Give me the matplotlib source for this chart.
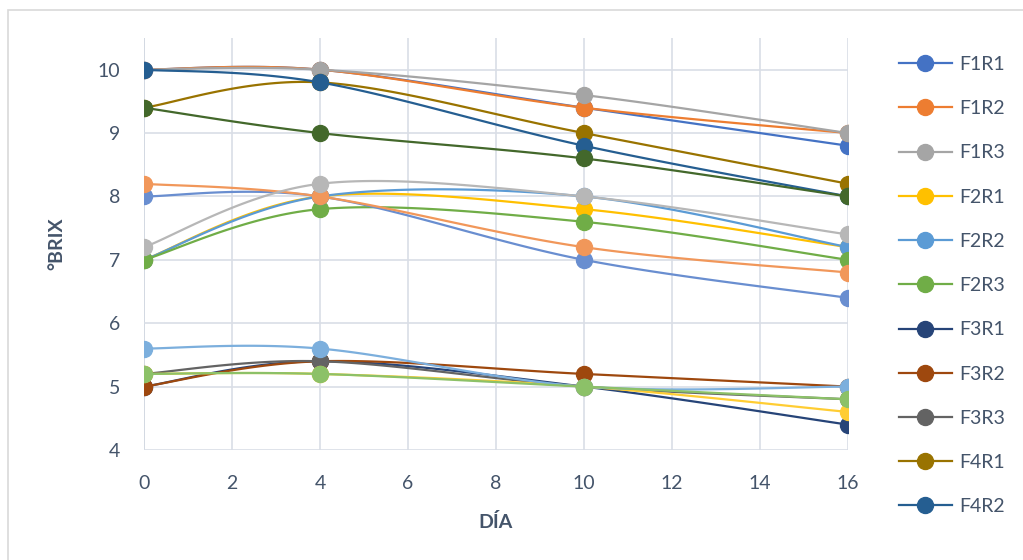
import matplotlib
matplotlib.use("Agg")
import matplotlib.pyplot as plt
import numpy as np
from matplotlib.lines import Line2D
from matplotlib.patches import Rectangle

plt.rcParams['font.family'] = ['Lato', 'DejaVu Sans']

# data
days = [0, 4, 10, 16]
names = ['F1R1', 'F1R2', 'F1R3', 'F2R1', 'F2R2', 'F2R3',
         'F3R1', 'F3R2', 'F3R3', 'F4R1', 'F4R2', 'F4R3',
         'F5R1', 'F5R2', 'F5R3', 'F6R1', 'F6R2', 'F6R3']
f1r1 = [10, 10, 9.4, 8.8]
f1r2 = [10, 10, 9.4, 9.0]
f1r3 = [10, 10, 9.6, 9.0]
f2r1 = [7.0, 8.0, 7.8, 7.2]
f2r2 = [7.0, 8.0, 8.0, 7.2]
f2r3 = [7.0, 7.8, 7.6, 7.0]
f3r1 = [5.0, 5.4, 5.0, 4.4]
f3r2 = [5.0, 5.4, 5.2, 5.0]
f3r3 = [5.2, 5.4, 5.0, 4.8]
f4r1 = [9.4, 9.8, 9.0, 8.2]
f4r2 = [10, 9.8, 8.8, 8.0]
f4r3 = [9.4, 9.0, 8.6, 8.0]
f5r1 = [8.0, 8.0, 7.0, 6.4]
f5r2 = [8.2, 8.0, 7.2, 6.8]
f5r3 = [7.2, 8.2, 8.0, 7.4]
f6r1 = [5.2, 5.2, 5.0, 4.6]
f6r2 = [5.6, 5.6, 5.0, 5.0]
f6r3 = [5.2, 5.2, 5.0, 4.8]
series = [f1r1, f1r2, f1r3, f2r1, f2r2, f2r3, f3r1, f3r2, f3r3,
          f4r1, f4r2, f4r3, f5r1, f5r2, f5r3, f6r1, f6r2, f6r3]

# office palette: accents, darker accents, lighter accents
colors = ['#4472C4', '#ED7D31', '#A5A5A5', '#FFC000', '#5B9BD5', '#70AD47',
          '#264478', '#9E480E', '#636363', '#997300', '#255E91', '#43682B',
          '#698ED0', '#F1975A', '#B7B7B7', '#FFCD33', '#7CAFDD', '#8CC168']

text_col = '#44546A'
grid_col = '#D9DEE6'


def smooth(x, y, n=40):
    """Excel-style smoothed line: cubic bezier through the points."""
    pts = np.column_stack([x, y]).astype(float)
    padded = np.vstack([pts[0], pts, pts[-1]])
    t = np.linspace(0, 1, n)[:, None]
    out = []
    for i in range(len(pts) - 1):
        p0, p1, p2, p3 = padded[i], padded[i + 1], padded[i + 2], padded[i + 3]
        c1 = p1 + (p2 - p0) / 6
        c2 = p2 - (p3 - p1) / 6
        seg = ((1 - t) ** 3) * p1 + 3 * ((1 - t) ** 2) * t * c1 + 3 * (1 - t) * t ** 2 * c2 + t ** 3 * p2
        out.append(seg)
    curve = np.vstack(out)
    return curve[:, 0], curve[:, 1]


fig = plt.figure(figsize=(10.23, 5.6), dpi=100)
ax = fig.add_axes([144 / 1023, 110 / 560, 704 / 1023, 412 / 560])

for vals, col in zip(series, colors):
    sx, sy = smooth(days, vals)
    ax.plot(sx, sy, color=col, lw=1.6, solid_capstyle='round', zorder=3)
    ax.plot(days, vals, 'o', color=col, ms=11.5, mec=col, zorder=3)

ax.set_xlim(0, 16)
ax.set_ylim(4, 10.5)
ax.set_xticks(range(0, 17, 2))
ax.set_yticks(range(4, 11))
ax.grid(True, color=grid_col, lw=1.2, zorder=0)
for s in ['top', 'right', 'bottom', 'left']:
    ax.spines[s].set_visible(False)
ax.axvline(0, color='#BAC4D2', lw=1.4, zorder=1)
ax.tick_params(length=0, labelsize=14, labelcolor=text_col)
ax.tick_params(axis='y', pad=17)
ax.tick_params(axis='x', pad=18)

ax.set_xlabel('DÍA', fontsize=14, fontweight='bold', color=text_col)
ax.set_ylabel('°BRIX', fontsize=14, fontweight='bold', color=text_col)
ax.xaxis.set_label_coords(0.5, -0.152)
ax.yaxis.set_label_coords(-0.112, 0.5)

# legend shows only the first eleven entries, like the reference
handles = [Line2D([], [], color=c, lw=1.6, marker='o', ms=11.5, mec=c)
           for c in colors[:11]]
fig.legend(handles, names[:11], loc='upper left',
           bbox_to_anchor=(899 / 1023, 1 - 56 / 560), frameon=False,
           fontsize=14, labelcolor=text_col, handlelength=2.7,
           handletextpad=0.4, labelspacing=1.4, borderpad=0,
           borderaxespad=0)

# chart area border
fig.patches.append(Rectangle((8 / 1023, -0.1), 1.2, 1 - 10 / 560 + 0.1,
                             transform=fig.transFigure, fill=False,
                             ec='#D9D9D9', lw=1.2))

fig.savefig('out.png', dpi=100)
